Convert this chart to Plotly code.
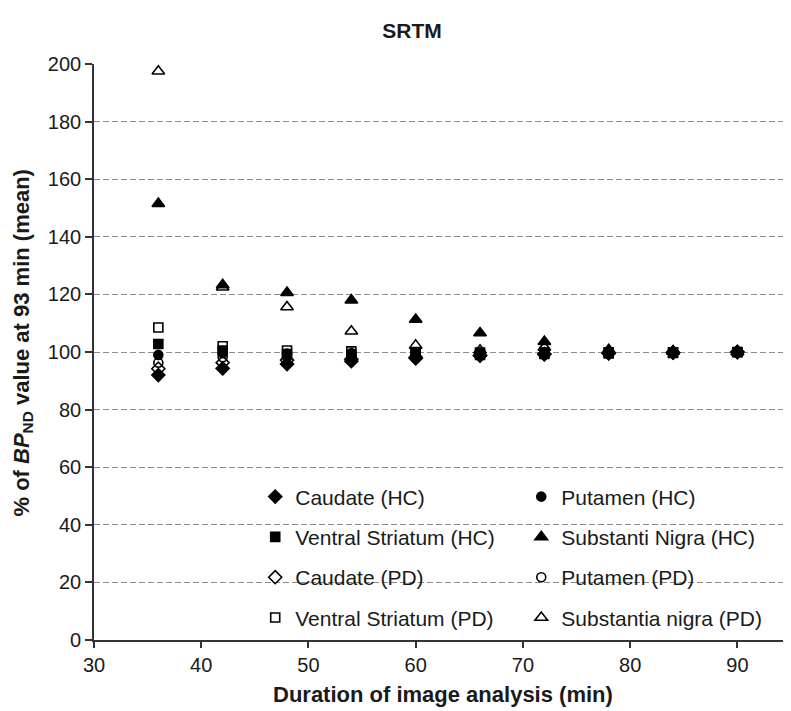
import plotly.graph_objects as go

# ---- data ----
durations = [36, 42, 48, 54, 60, 66, 72, 78, 84, 90]

caudate_hc = [92.0, 94.3, 95.8, 96.8, 97.8, 98.7, 99.2, 99.5, 99.8, 100.0]
putamen_hc = [99.0, 99.6, 99.5, 99.6, 99.7, 99.8, 99.9, 99.9, 100.0, 100.0]
vs_hc = [102.8, 100.5, 99.3, 99.0, 99.2, 99.0, 99.3, 99.5, 99.7, 99.9]
sn_hc = [151.5, 123.3, 120.6, 118.0, 111.3, 106.6, 103.6, 100.8, 100.3, 100.0]
caudate_pd = [94.2, 96.3, 97.2, 97.5, 98.2, 98.8, 99.3, 99.6, 99.8, 100.0]
putamen_pd = [96.3, 98.2, 98.3, 98.5, 97.8, 99.0, 99.4, 99.7, 99.8, 100.0]
vs_pd = [108.5, 102.0, 100.5, 100.2, 100.0, 99.8, 99.8, 99.9, 99.9, 100.0]
sn_pd = [197.5, 122.5, 115.6, 107.2, 102.3, 100.6, 101.6, 100.5, 100.2, 100.0]

x_ticks = [30, 40, 50, 60, 70, 80, 90]
y_ticks = [0, 20, 40, 60, 80, 100, 120, 140, 160, 180, 200]

FONT = "Liberation Sans, Arial, sans-serif"
TXT = "#1a1a1a"

series = [
    # name, values, symbol, size, legend column
    ("Caudate (HC)", caudate_hc, "diamond", 10, "legend"),
    ("Putamen (HC)", putamen_hc, "circle", 9, "legend2"),
    ("Ventral Striatum (HC)", vs_hc, "square", 9, "legend"),
    ("Substanti Nigra (HC)", sn_hc, "triangle-up", 11, "legend2"),
    ("Caudate (PD)", caudate_pd, "diamond-open", 10, "legend"),
    ("Putamen (PD)", putamen_pd, "circle-open", 9, "legend2"),
    ("Ventral Striatum (PD)", vs_pd, "square-open", 9, "legend"),
    ("Substantia nigra (PD)", sn_pd, "triangle-up-open", 11, "legend2"),
]

fig = go.Figure()
for i, (name, vals, sym, size, leg) in enumerate(series):
    fig.add_trace(go.Scatter(
        x=durations, y=vals, mode="markers", name=name,
        legend=leg, legendgroup=f"g{i}",
        marker=dict(symbol=sym, size=size, color="#000000",
                    line=dict(color="#000000", width=1.6)),
        cliponaxis=False,
    ))

legend_common = dict(
    yanchor="top", xanchor="left",
    bgcolor="rgba(0,0,0,0)", borderwidth=0,
    font=dict(family=FONT, size=21, color=TXT),
    tracegroupgap=10, itemsizing="trace",
)

# page has an 8px body margin: figure is 783x703 placed at (8,8)
W, H = 783, 703
fig.update_layout(
    width=W, height=H,
    margin=dict(l=86, r=0, t=56, b=71),
    paper_bgcolor="white", plot_bgcolor="white",
    font=dict(family=FONT, color=TXT),
    title=dict(text="<b>SRTM</b>", x=404 / W, xref="container", xanchor="center",
               y=1 - 23 / H, yref="container", yanchor="middle",
               font=dict(family=FONT, size=21, color=TXT)),
    legend=dict(x=0.2313, y=0.2839, **legend_common),
    legend2=dict(x=0.613, y=0.2839, **legend_common),
    xaxis=dict(
        range=[30, 95], tickvals=x_ticks, ticktext=[str(v) for v in x_ticks],
        showgrid=False, zeroline=False,
        showline=True, linecolor="#333333", linewidth=1.6,
        ticks="outside", ticklen=6, tickwidth=1.5, tickcolor="#333333",
        tickfont=dict(family=FONT, size=20, color=TXT),
    ),
    yaxis=dict(
        range=[0, 200], tickvals=y_ticks, ticktext=[str(v) for v in y_ticks],
        showgrid=True, gridcolor="#8c8c8c", gridwidth=1.3, griddash="6px,3px",
        zeroline=False,
        showline=True, linecolor="#333333", linewidth=1.6,
        ticks="outside", ticklen=7, tickwidth=1.5, tickcolor="#333333",
        tickfont=dict(family=FONT, size=20, color=TXT),
    ),
    shapes=[dict(type="rect", xref="paper", yref="paper",
                 x0=0.233, x1=1.0, y0=0.003, y1=0.285,
                 fillcolor="white", line=dict(width=0), layer="between")],
    annotations=[
        dict(text="<b>Duration of image analysis (min)</b>", xref="paper", yref="paper",
             x=0.5, y=(576 - 693 + 56) / 576 if False else (632 - 686) / 576,
             xanchor="center", yanchor="middle",
             showarrow=False, font=dict(family=FONT, size=22, color=TXT)),
        dict(text="<b>% of <i>BP</i><sub>ND</sub> value at 93 min (mean)</b>",
             xref="paper", yref="paper", x=(14 - 86) / 697, y=(632 - 335.5) / 576,
             xanchor="center", yanchor="middle", textangle=-90,
             showarrow=False, font=dict(family=FONT, size=22, color=TXT)),
    ],
    showlegend=True,
)

fig.write_html("out.html")
